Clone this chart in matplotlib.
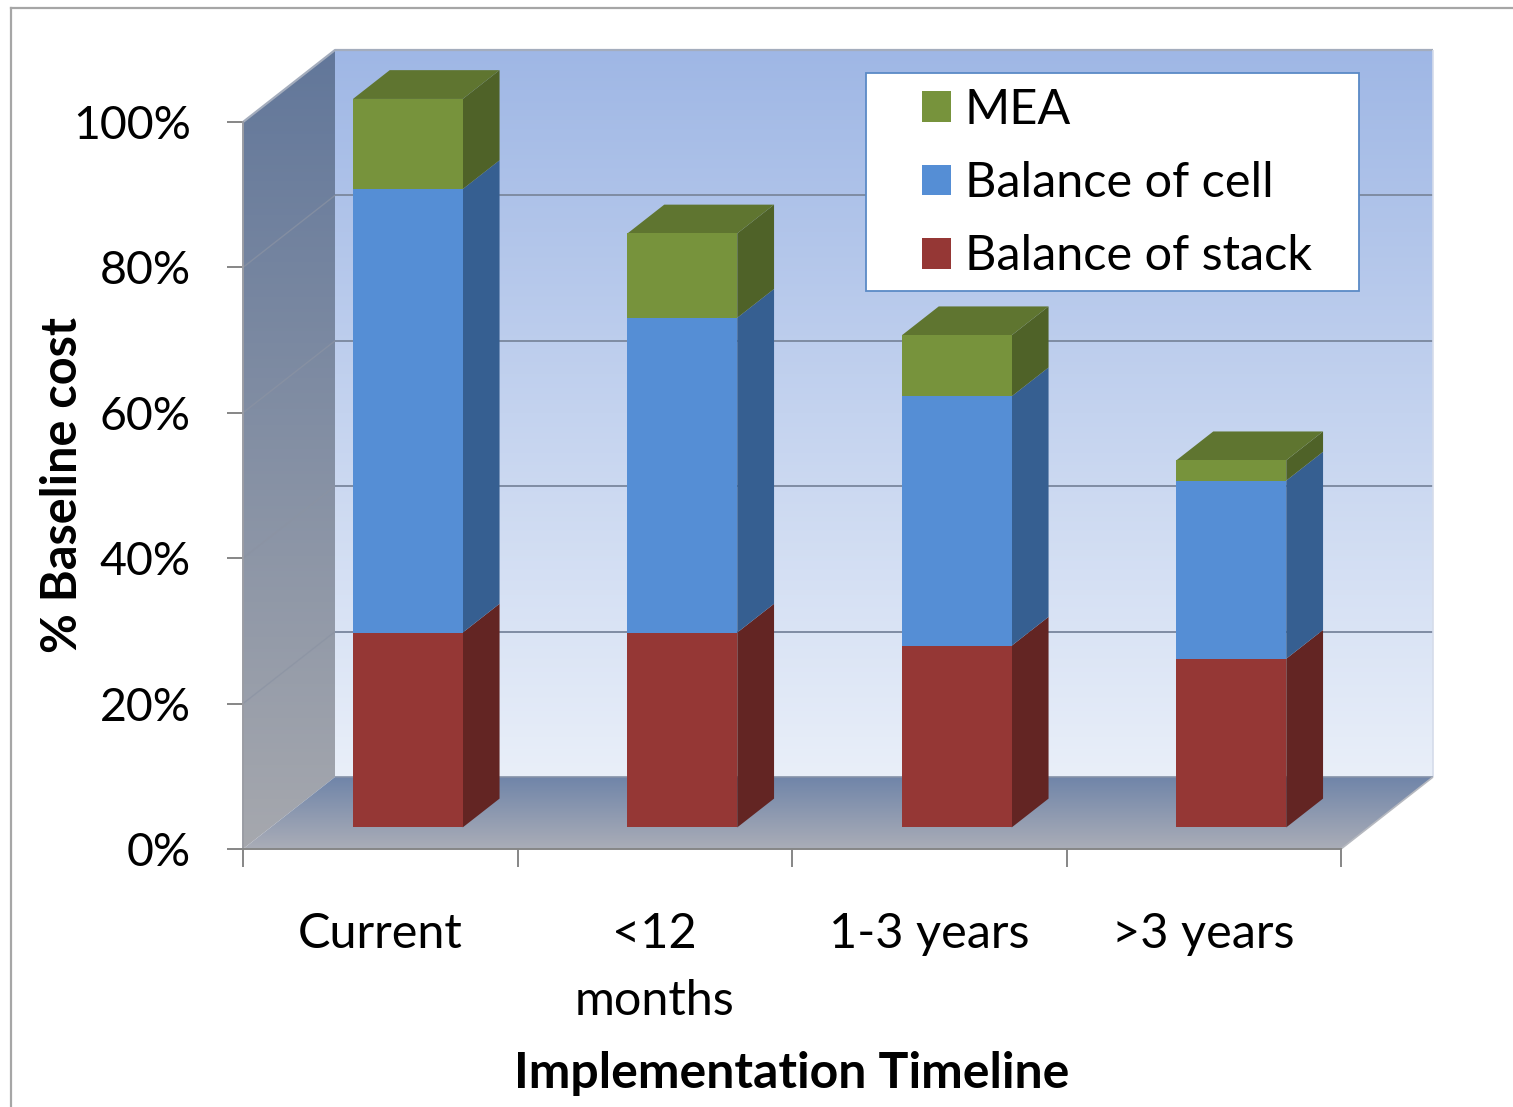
import numpy as np
import matplotlib
matplotlib.use("Agg")
import matplotlib.pyplot as plt
from matplotlib.colors import LinearSegmentedColormap
from matplotlib.lines import Line2D
from matplotlib.patches import Patch, Polygon, Rectangle

categories = ["Current", "<12\nmonths", "1-3 years", ">3 years"]
balance_of_stack = [26.8, 26.8, 25.0, 23.2]
balance_of_cell = [61.0, 43.3, 34.3, 24.5]
mea = [12.4, 11.6, 8.4, 2.8]
y_ticks = [0, 20, 40, 60, 80, 100]
y_tick_labels = ["0%", "20%", "40%", "60%", "80%", "100%"]

W, H = 1513, 1107
LEFT, RIGHT, BOTTOM, TOP = 243, 1341, 849, 122
plt.rcParams["font.family"] = ["Lato", "DejaVu Sans"]

fig = plt.figure(figsize=(W / 100, H / 100), dpi=100, facecolor="white")
ax = fig.add_axes([LEFT / W, 1 - BOTTOM / H, (RIGHT - LEFT) / W, (BOTTOM - TOP) / H])
ax.set_xlim(0, 4)
ax.set_ylim(0, 100)
ax.patch.set_visible(False)

DX = 92 / ((RIGHT - LEFT) / 4)
DY = 72 / ((BOTTOM - TOP) / 100)


def proj(x, y, d):
    return x + d * DX, y + d * DY


def gradient(corners, top_col, bottom_col, zorder):
    xs, ys = zip(*corners)
    cmap = LinearSegmentedColormap.from_list("g", [top_col, bottom_col])
    im = ax.imshow(np.linspace(0, 1, 256)[:, None], cmap=cmap, aspect="auto",
                   extent=[min(xs), max(xs), min(ys), max(ys)], origin="upper",
                   zorder=zorder)
    patch = Polygon(corners, closed=True, transform=ax.transData, fill=False, edgecolor="none")
    im.set_clip_path(patch)
    im.set_clip_box(fig.bbox)
    return im


# back wall, left wall, floor
gradient([proj(0, 0, 1), proj(4, 0, 1), proj(4, 100, 1), proj(0, 100, 1)], "#9fb7e5", "#e9eff9", 1)
gradient([proj(0, 0, 0), proj(0, 0, 1), proj(0, 100, 1), proj(0, 100, 0)], "#62779a", "#a6a8ae", 1)
gradient([proj(0, 0, 0), proj(4, 0, 0), proj(4, 0, 1), proj(0, 0, 1)], "#7085a9", "#aaadb7", 1)
ax.set_xlim(0, 4)
ax.set_ylim(0, 100)

edge_kw = dict(clip_on=False, zorder=2, solid_capstyle="butt")
for v in y_ticks[1:-1]:
    xa, ya = proj(0, v, 1)
    xb, yb = proj(4, v, 1)
    ax.plot([xa, xb], [ya, yb], color="#7f8ca3", lw=1.4, **edge_kw)
    xc, yc = proj(0, v, 0)
    ax.plot([xc, xa], [yc, ya], color="#8b93a3", lw=1.0, alpha=0.7, **edge_kw)
xa, ya = proj(0, 100, 0)
xb, yb = proj(0, 100, 1)
xc, yc = proj(4, 100, 1)
ax.plot([xa, xb, xc], [ya, yb, yc], color="#a4adbd", lw=1.6, **edge_kw)
xd, yd = proj(4, 0, 1)
ax.plot([xc, xd], [yc, yd], color="#d5dcea", lw=1.2, **edge_kw)
xe, ye = proj(0, 0, 1)
ax.plot([xe, xd], [ye, yd], color="#8592a8", lw=1.2, **edge_kw)
xf, yf = proj(4, 0, 0)
ax.plot([xf, xd], [yf, yd], color="#b5b8bf", lw=1.2, **edge_kw)

# bars
series = [
    ("Balance of stack", balance_of_stack, "#953735", "#632523"),
    ("Balance of cell", balance_of_cell, "#558ed5", "#365f91"),
    ("MEA", mea, "#77933c", "#4f6228"),
]
TOP_COL = "#5f7530"
D0, D1, BAR_W = 0.30, 0.70, 0.40

for i in range(len(categories)):
    base = 0.0
    xl = i + 0.5 - BAR_W / 2
    xr = i + 0.5 + BAR_W / 2
    for s, (name, vals, front, side) in enumerate(series):
        v = vals[i]
        z = 5 + i
        ax.fill(*zip(proj(xr, base, D0), proj(xr, base, D1), proj(xr, base + v, D1), proj(xr, base + v, D0)),
                color=side, lw=0, zorder=z, clip_on=False)
        ax.fill(*zip(proj(xl, base, D0), proj(xr, base, D0), proj(xr, base + v, D0), proj(xl, base + v, D0)),
                color=front, lw=0, zorder=z + 0.5, clip_on=False)
        base += v
        if s == len(series) - 1:
            ax.fill(*zip(proj(xl, base, D0), proj(xr, base, D0), proj(xr, base, D1), proj(xl, base, D1)),
                    color=TOP_COL, lw=0, zorder=z, clip_on=False)

# axes furniture
GREY = "#868686"
for name, sp in ax.spines.items():
    sp.set_visible(name in ("left", "bottom"))
    sp.set_color(GREY)
    sp.set_linewidth(1.4)
    sp.set_zorder(3)
ax.spines["left"].set_color("#9a9ca3")
ax.set_yticks(y_ticks, y_tick_labels, fontsize=33.5, color="black")
ax.tick_params(axis="y", length=11.5, width=1.4, color=GREY, pad=26)
ax.set_xticks(np.arange(0, 5), [""] * 5)
ax.tick_params(axis="x", which="major", length=13, width=1.4, color=GREY)
ax.set_xticks(np.arange(len(categories)) + 0.5, categories, minor=True, fontsize=35, linespacing=1.62)
ax.tick_params(axis="x", which="minor", length=0, pad=45.5)
for t in ax.get_xticklabels(minor=True):
    t.set_ha("center")


def ax_xy(px, py):
    return (px - LEFT) / (RIGHT - LEFT), (BOTTOM - py) / (BOTTOM - TOP)


ax.set_xlabel("Implementation Timeline", fontsize=36, fontweight="bold", va="center", ha="center")
ax.xaxis.set_label_coords(*ax_xy(792, 1074))
ax.set_ylabel("% Baseline cost", fontsize=35, fontweight="bold", va="center", ha="center")
ax.yaxis.set_label_coords(*ax_xy(63, 485))

# legend
bx0, by0 = ax_xy(866, 291)
bx1, by1 = ax_xy(1359, 73)
ax.add_patch(Rectangle((bx0, by0), bx1 - bx0, by1 - by0, transform=ax.transAxes, facecolor="white",
                       edgecolor="#5b8ac6", lw=1.3, zorder=20, clip_on=False))
handles = [Patch(facecolor=s[2], edgecolor="none", label=s[0]) for s in reversed(series)]
ax.legend(handles=handles, loc="upper left", bbox_to_anchor=ax_xy(922, 88), bbox_transform=ax.transAxes,
          frameon=False, fontsize=35, borderpad=0, borderaxespad=0, labelspacing=0.6,
          handlelength=0.6, handleheight=0.6, handletextpad=0.28).set_zorder(21)

# outer frame of the picture
frame = dict(transform=fig.transFigure, color="#a6a6a6", lw=1.6)
fig.add_artist(Line2D([11 / W, 11 / W], [0, 1 - 8 / H], **frame))
fig.add_artist(Line2D([11 / W, 1], [1 - 8 / H, 1 - 8 / H], **frame))

fig.savefig("out.png", dpi=100, facecolor="white")
